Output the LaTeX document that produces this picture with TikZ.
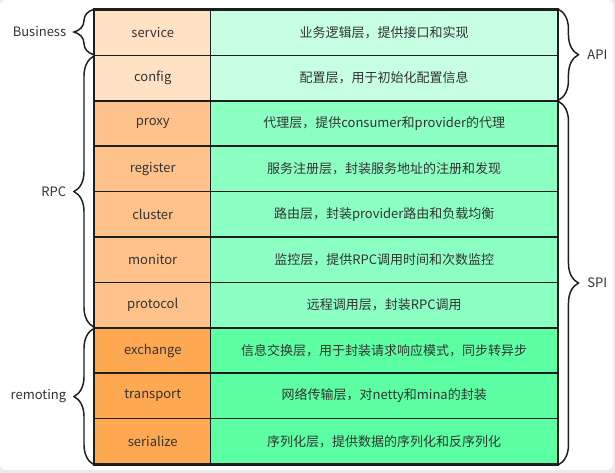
\documentclass[tikz,border=0pt]{standalone}
\usepackage{fontspec}
\setmainfont{Noto Sans CJK SC}
\usetikzlibrary{decorations.pathreplacing}
\definecolor{peachA}{HTML}{FFE1C3}
\definecolor{peachB}{HTML}{FFC28A}
\definecolor{peachC}{HTML}{FFA852}
\definecolor{mintA}{HTML}{C6FFE1}
\definecolor{mintB}{HTML}{8CFFC2}
\definecolor{mintC}{HTML}{5CFFA2}
\definecolor{inkgray}{HTML}{333333}
\definecolor{rulegray}{HTML}{1E1E1E}
\definecolor{framegray}{HTML}{EBEBEB}
\begin{document}
\begin{tikzpicture}[x=0.75pt,y=-0.75pt,
    font=\fontsize{9.75}{12}\selectfont,text=inkgray,
    cell/.style={draw=rulegray,line width=1.1pt,minimum height=34.05pt,inner sep=0pt,anchor=west},
    namecell/.style={cell,minimum width=87pt},
    desccell/.style={cell,minimum width=260.25pt},
    bracket/.style={draw=rulegray,line width=1.1pt,decorate,decoration={brace,amplitude=15pt}}]
    \useasboundingbox (0,0) rectangle (615,473);
    \fill[framegray] (0,0) rectangle (615,473);
    \fill[white,rounded corners=4.5pt] (0,0) rectangle (613,470);
    % layers
    \foreach \i/\name/\desc/\lc/\rc in {
        1/service/业务逻辑层，提供接口和实现/peachA/mintA,
        2/config/配置层，用于初始化配置信息/peachA/mintA,
        3/proxy/代理层，提供consumer和provider的代理/peachB/mintB,
        4/register/服务注册层，封装服务地址的注册和发现/peachB/mintB,
        5/cluster/路由层，封装provider路由和负载均衡/peachB/mintB,
        6/monitor/监控层，提供RPC调用时间和次数监控/peachB/mintB,
        7/protocol/远程调用层，封装RPC调用/peachB/mintB,
        8/exchange/信息交换层，用于封装请求响应模式，同步转异步/peachC/mintC,
        9/transport/网络传输层，对netty和mina的封装/peachC/mintC,
        10/serialize/序列化层，提供数据的序列化和反序列化/peachC/mintC}{
        \node[namecell,fill=\lc] (l\i) at (94,{10+45.4*(\i-.5)}) {\name};
        \node[desccell,fill=\rc] (r\i) at (210,{10+45.4*(\i-.5)}) {\desc};
    }
    \draw[rulegray,line width=1.5pt] (l1.north west) rectangle (r10.south east);
    % left braces
    \draw[bracket] ([yshift=1pt]l1.south west) -- (l1.north west)
        node[midway,left=17pt] (business) {Business};
    \draw[bracket] ([yshift=1pt]l7.south west) -- ([yshift=-1pt]l2.north west)
        node[midway,left=17pt] (rpc) {RPC};
    \draw[bracket] (l10.south west) -- ([yshift=-1pt]l8.north west)
        node[midway,left=17pt] (remoting) {remoting};
    % right braces
    \draw[bracket] (r1.north east) -- ([yshift=1pt]r2.south east)
        node[midway,right=17.8pt] (api) {API};
    \draw[bracket] ([yshift=-1pt]r3.north east) -- (r10.south east)
        node[midway,right=17.8pt] (spi) {SPI};
\end{tikzpicture}
\end{document}
